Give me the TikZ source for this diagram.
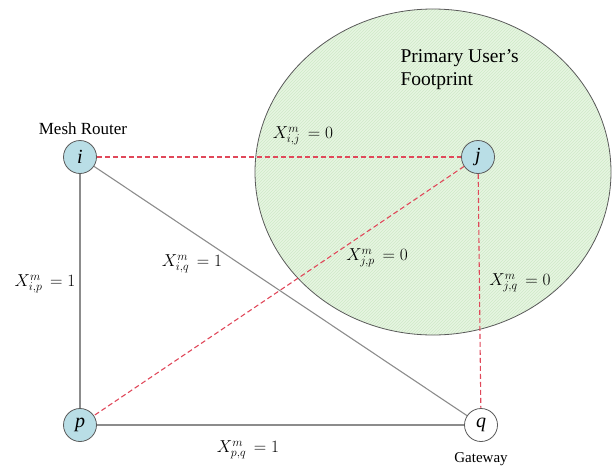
\documentclass[tikz,border=0pt]{standalone}
\usepackage{fontspec}
\setmainfont{Liberation Serif}
\usetikzlibrary{patterns}
\definecolor{nodefill}{HTML}{B9DEE6}
\definecolor{footfill}{HTML}{E6F5E2}
\definecolor{hatch}{HTML}{CFEAC8}
\definecolor{linkgray}{HTML}{8C8C8C}
\definecolor{dashred}{HTML}{E0485A}
\definecolor{edgegray}{HTML}{5A5A5A}
\begin{document}
\begin{tikzpicture}[x=1pt,y=-1pt,
  mr/.style={circle, draw=edgegray, line width=0.8pt, fill=nodefill, minimum size=33pt, inner sep=0pt, font=\fontsize{20}{20}\selectfont\itshape},
  solidlink/.style={draw=linkgray, line width=1.1pt},
  redlink/.style={draw=dashred, line width=1.1pt, dash pattern=on 5pt off 3pt},
  lbl/.style={font=\fontsize{18}{18}\selectfont},
  captxt/.style={font=\fontsize{17}{17}\selectfont},
]
\useasboundingbox (0,0) rectangle (613,469);
\fill[footfill] (433,172) ellipse [x radius=178, y radius=163];
\fill[pattern=north east lines, pattern color=hatch] (433,172) ellipse [x radius=178, y radius=163];
\draw[edgegray, line width=0.8pt] (433,172) ellipse [x radius=178, y radius=163];
\node[font=\fontsize{19.5}{23}\selectfont, align=left, anchor=north west] (fp) at (397,46) {Primary User's\\Footprint};

\node[mr] (i) at (80,157) {i};
\node[mr] (j) at (478,157) {j};
\node[mr] (p) at (80,425) {p};
\node[mr, fill=white] (q) at (481,425) {q};

\draw[solidlink] (i) -- (p);
\draw[solidlink] (i) -- (q);
\draw[solidlink] (p) -- (q);
\draw[redlink] (i) -- (j);
\draw[redlink] (j) -- (p);
\draw[redlink] (j) -- (q);

\node[captxt] (mrl) at (83,129) {Mesh Router};
\node[font=\fontsize{15}{15}\selectfont] (gwl) at (481,459) {Gateway};

\node[lbl] (lij) at (303,136) {$X^{m}_{i,j}\,=0$};
\node[lbl] (liq) at (192,264) {$X^{m}_{i,q}\,=1$};
\node[lbl] (lip) at (45,284) {$X^{m}_{i,p}\,=1$};
\node[lbl] (ljp) at (377,258) {$X^{m}_{j,p}\,=0$};
\node[lbl] (ljq) at (520,283) {$X^{m}_{j,q}\,=0$};
\node[lbl] (lpq) at (248,450) {$X^{m}_{p,q}\,=1$};
\end{tikzpicture}
\end{document}
